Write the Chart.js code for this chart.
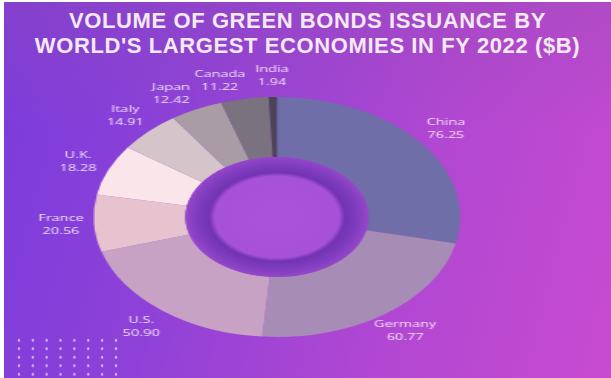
<!DOCTYPE html>
<html>
<head>
<meta charset="utf-8">
<script src="https://cdn.jsdelivr.net/npm/chart.js@4"></script>
<style>
  html, body { margin: 0; padding: 0; background: #ffffff; }
  #wrap {
    position: relative; width: 611px; height: 378px; overflow: hidden;
  }
  #bg {
    position: absolute; left: 4px; top: 2px; width: 607px; height: 376px;
    background:
      linear-gradient(180deg, rgba(150, 75, 175, 0.35) 0%, rgba(150, 75, 175, 0) 35%),
      linear-gradient(105deg, #7a3bdc 0%, #8d41d8 30%, #b047d2 65%, #c84bd0 100%);
  }
  #dots {
    position: absolute; left: 12px; top: 336px; width: 111px; height: 44px;
    background-image: radial-gradient(circle, rgba(245, 215, 245, 0.75) 1px, rgba(0,0,0,0) 1.6px);
    background-size: 13.86px 8.5px;
  }
  #title {
    position: absolute; left: 4px; top: 8px; width: 607px;
    text-align: center; color: #f4e9f4;
    font: bold 22px "Liberation Sans", Arial, sans-serif;
    line-height: 25px; letter-spacing: 0.6px;
  }
  #stretch {
    position: absolute; left: 0; top: 0; width: 400px; height: 378px;
    transform: scaleX(1.5275); transform-origin: 0 0;
  }
</style>
</head>
<body>
<div id="wrap">
  <div id="bg"></div>
  <div id="dots"></div>
  <div id="title">VOLUME OF GREEN BONDS ISSUANCE BY<br>WORLD'S LARGEST ECONOMIES IN FY 2022 ($B)</div>
  <div id="stretch"><canvas id="test" width="400" height="378"></canvas></div>
</div>
<script>
const countries = ["China", "Germany", "U.S.", "France", "U.K.", "Italy", "Japan", "Canada", "India"];
const issuance = [76.25, 60.77, 50.90, 20.56, 18.28, 14.91, 12.42, 11.22, 1.94];
const valueLabels = ["76.25", "60.77", "50.90", "20.56", "18.28", "14.91", "12.42", "11.22", "1.94"];
const sliceColors = ["#6f6ea9", "#a78cb6", "#c8a2c4", "#e6c3ce", "#fae6ea", "#d6c4cb", "#a99ca5", "#7b7280", "#4b4456"];

// inner ring inside the hole
const innerRing = {
  id: "innerRing",
  afterDatasetsDraw(chart) {
    const arc = chart.getDatasetMeta(0).data[0];
    if (!arc) return;
    const { x, y, innerRadius } = arc.getProps(["x", "y", "innerRadius"], true);
    const c = chart.ctx;
    const g = c.createRadialGradient(x, y, 0, x, y, innerRadius);
    g.addColorStop(0, "#a954da");
    g.addColorStop(0.68, "#a651d8");
    g.addColorStop(0.74, "#7234b2");
    g.addColorStop(0.86, "#7e3bbe");
    g.addColorStop(1, "#9547c9");
    c.save();
    c.beginPath();
    c.arc(x, y, innerRadius, 0, Math.PI * 2);
    c.fillStyle = g;
    c.fill();
    c.restore();
  }
};

// name + value outside each slice
const outLabels = {
  id: "outLabels",
  afterDraw(chart) {
    const c = chart.ctx;
    const meta = chart.getDatasetMeta(0);
    const props = meta.data.map(arc => arc.getProps(["x", "y", "startAngle", "endAngle", "outerRadius"], true));
    const mids = props.map(p => (p.startAngle + p.endAngle) / 2);
    // keep small slices' labels apart (walk back from the last one)
    const minGap = 14 * Math.PI / 180;
    for (let i = mids.length - 2; i >= 0; i--) {
      if (mids[i + 1] - mids[i] < minGap) mids[i] = mids[i + 1] - minGap;
    }
    c.save();
    c.fillStyle = "rgba(246, 232, 246, 0.95)";
    c.textAlign = "center";
    c.textBaseline = "middle";
    c.font = "9.5px 'Open Sans', sans-serif";
    props.forEach((p, i) => {
      const r = p.outerRadius * 1.18;
      const lx = p.x + Math.cos(mids[i]) * r;
      const ly = p.y + Math.sin(mids[i]) * r;
      c.fillText(countries[i], lx, ly - 6.5);
      c.fillText(valueLabels[i], lx, ly + 6.5);
    });
    c.restore();
  }
};

const ctx = document.getElementById("test");
new Chart(ctx, {
  type: "doughnut",
  data: {
    labels: countries,
    datasets: [
      {
        data: issuance,
        backgroundColor: sliceColors,
        borderWidth: 0,
      },
    ],
  },
  options: {
    responsive: false,
    animation: false,
    radius: 120,
    cutout: "50%",
    layout: {
      padding: { left: 40, right: 77.4, top: 90, bottom: 34 },
    },
    plugins: {
      legend: { display: false },
      tooltip: { enabled: false },
      title: { display: false },
    },
  },
  plugins: [innerRing, outLabels],
});
</script>
</body>
</html>
